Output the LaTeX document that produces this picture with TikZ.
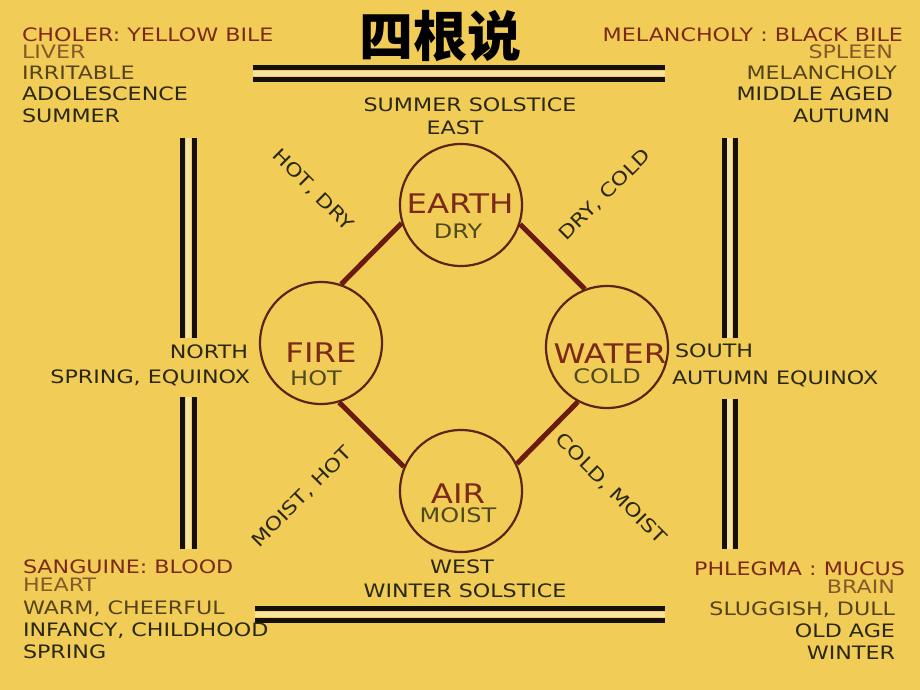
\documentclass[tikz,border=0pt]{standalone}
\usepackage{fontspec}
\setmainfont{DejaVu Sans}[FakeStretch=1.2]
\newfontfamily\cjk{Noto Sans CJK SC}
\definecolor{bg}{HTML}{F1CD57}
\definecolor{ink}{HTML}{2A2812}
\definecolor{hdrc}{HTML}{7B2A18}
\definecolor{sub}{HTML}{86592A}
\definecolor{mid}{HTML}{56431A}
\definecolor{ring}{HTML}{5C2412}
\definecolor{linkc}{HTML}{6B1A12}
\definecolor{barc}{HTML}{141008}
\definecolor{olive}{HTML}{4F4A1E}
\definecolor{cream}{HTML}{F7E3A0}
\tikzset{
  lbl/.style={inner sep=0pt, outer sep=0pt, font=\fontsize{18.5}{20}\selectfont, text=ink},
  hdr/.style={lbl, text=hdrc},
  subl/.style={lbl, text=sub},
  midl/.style={lbl, text=mid},
  elem/.style={circle, draw=ring, line width=2.2pt, minimum size=122pt, inner sep=0pt},
  eltop/.style={inner sep=0pt, font=\fontsize{27}{28}\selectfont, text=hdrc},
  elbot/.style={inner sep=0pt, font=\fontsize{20}{21}\selectfont, text=olive},
  link/.style={draw=linkc, line width=5pt},
  bar/.style={draw=barc, line width=5pt},
  gapline/.style={draw=cream, line width=5pt},
}
\begin{document}
\begin{tikzpicture}[x=1pt,y=-1pt]
\fill[bg] (0,0) rectangle (920,690);
\useasboundingbox (0,0) rectangle (920,690);

% title
\node[font=\cjk\bfseries\fontsize{54}{54}\selectfont, text=black, anchor=base, inner sep=0pt] (title) at (440,57) {四根说};

% double bars
\draw[gapline] (253,73.5) -- (665,73.5);
\draw[bar] (253,67.5) -- (665,67.5);
\draw[bar] (253,79.5) -- (665,79.5);
\draw[gapline] (255,614) -- (665,614);
\draw[bar] (255,608) -- (665,608);
\draw[bar] (255,620.5) -- (665,620.5);
\foreach \a/\b in {138/338, 397/549}{
  \draw[gapline] (188.5,\a) -- (188.5,\b);
  \draw[bar] (182.5,\a) -- (182.5,\b);
  \draw[bar] (194.5,\a) -- (194.5,\b);
}
\foreach \a/\b in {138/338, 399/549}{
  \draw[gapline] (729.75,\a) -- (729.75,\b);
  \draw[bar] (724,\a) -- (724,\b);
  \draw[bar] (735.5,\a) -- (735.5,\b);
}

% elements
\node[elem] (earth) at (461,205) {};
\node[elem] (fire) at (321,343) {};
\node[elem] (water) at (607,347) {};
\node[elem] (air) at (461,491) {};
\draw[link] (earth.197.4) -- (fire.71.1);
\draw[link] (fire.-73) -- (air.157.2);
\draw[link] (air.26.1) -- (water.242.5);
\draw[link] (water.111.4) -- (earth.-18.6);

\node[eltop, anchor=base] (earthT) at (460,213) {EARTH};
\node[elbot, anchor=base] (earthB) at (458,238) {DRY};
\node[eltop, anchor=base] (fireT) at (321,362) {FIRE};
\node[elbot, anchor=base] (fireB) at (316,385) {HOT};
\node[eltop, anchor=base] (waterT) at (610,363) {WATER};
\node[elbot, anchor=base] (waterB) at (607,383) {COLD};
\node[eltop, anchor=base] (airT) at (458,503) {AIR};
\node[elbot, anchor=base] (airB) at (458,522) {MOIST};

% diagonal qualities
\node[lbl, rotate=-45] (hotdry) at (313,190) {HOT, DRY};
\node[lbl, rotate=45] (drycold) at (605,195) {DRY, COLD};
\node[lbl, rotate=45] (moisthot) at (302,497) {MOIST, HOT};
\node[lbl, rotate=-45] (coldmoist) at (611,489) {COLD, MOIST};

% compass labels
\node[lbl, anchor=base] (summer) at (470,111) {SUMMER SOLSTICE};
\node[lbl, anchor=base] (east) at (455,135) {EAST};
\node[lbl, anchor=base] (west) at (462,573) {WEST};
\node[lbl, anchor=base] (winter) at (465,597) {WINTER SOLSTICE};
\node[lbl, anchor=base east] (north) at (248,358) {NORTH};
\node[lbl, anchor=base east] (spring) at (250,383) {SPRING, EQUINOX};
\node[lbl, anchor=base west] (south) at (675,357) {SOUTH};
\node[lbl, anchor=base west] (autumn) at (672,384) {AUTUMN EQUINOX};

% top-left
\node[hdr, anchor=base west] (tl1) at (22,42) {CHOLER: YELLOW BILE};
\node[subl, anchor=base west] (tl2) at (22,59) {LIVER};
\node[midl, anchor=base west] (tl3) at (22,80) {IRRITABLE};
\node[lbl, anchor=base west] (tl4) at (22,101) {ADOLESCENCE};
\node[lbl, anchor=base west] (tl5) at (22,123) {SUMMER};

% top-right
\node[hdr, anchor=base east] (tr1) at (903,42) {MELANCHOLY : BLACK BILE};
\node[subl, anchor=base east] (tr2) at (893,59) {SPLEEN};
\node[midl, anchor=base east] (tr3) at (897,80) {MELANCHOLY};
\node[lbl, anchor=base east] (tr4) at (893,101) {MIDDLE AGED};
\node[lbl, anchor=base east] (tr5) at (890,122) {AUTUMN};

% bottom-left
\node[hdr, anchor=base west] (bl1) at (23,573) {SANGUINE: BLOOD};
\node[subl, anchor=base west] (bl2) at (23,591) {HEART};
\node[midl, anchor=base west] (bl3) at (23,614) {WARM, CHEERFUL};
\node[lbl, anchor=base west] (bl4) at (23,636) {INFANCY, CHILDHOOD};
\node[lbl, anchor=base west] (bl5) at (23,658) {SPRING};

% bottom-right
\node[hdr, anchor=base east] (br1) at (905,575) {PHLEGMA : MUCUS};
\node[subl, anchor=base east] (br2) at (895,593) {BRAIN};
\node[midl, anchor=base east] (br3) at (895,615) {SLUGGISH, DULL};
\node[lbl, anchor=base east] (br4) at (895,637) {OLD AGE};
\node[lbl, anchor=base east] (br5) at (895,659) {WINTER};
\end{tikzpicture}
\end{document}
